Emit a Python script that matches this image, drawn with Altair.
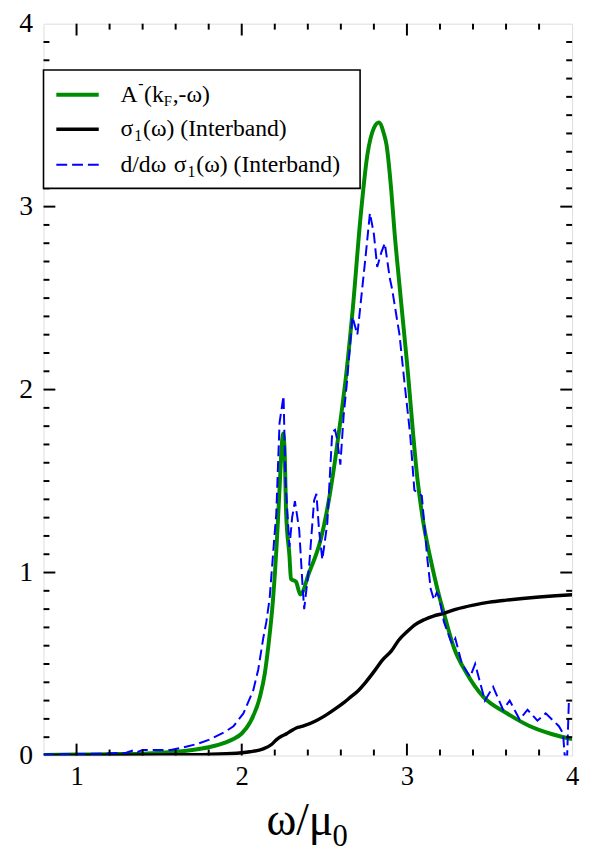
import altair as alt
import pandas as pd

# ---------------- data ----------------
# A^-(k_F,-omega)  (green)
a_x = [0.8, 1.0, 1.2, 1.4, 1.6, 1.7, 1.8, 1.9, 1.95, 2.0, 2.05, 2.11, 2.14, 2.16, 2.19, 2.21, 2.22, 2.23,
       2.24, 2.25, 2.259, 2.269, 2.289, 2.298, 2.328, 2.355, 2.408, 2.478, 2.527, 2.567, 2.607, 2.627,
       2.67, 2.72, 2.76, 2.80, 2.83, 2.86, 2.876, 2.905, 2.925, 2.955, 3.0, 3.065, 3.10, 3.144, 3.194,
       3.224, 3.284, 3.363, 3.463, 3.602, 3.742, 3.88, 4.0]
a_y = [0.003, 0.005, 0.007, 0.01, 0.02, 0.03, 0.045, 0.07, 0.09, 0.12, 0.18, 0.32, 0.45, 0.59, 0.86, 1.13, 1.3, 1.48,
       1.66, 1.76, 1.68, 1.32, 1.09, 0.965, 0.95, 0.88, 1.0, 1.18, 1.394, 1.626, 1.894, 2.04,
       2.42, 2.95, 3.28, 3.43, 3.46, 3.40, 3.34, 3.09, 2.86, 2.57, 2.15, 1.50, 1.27, 1.07, 0.876,
       0.777, 0.59, 0.447, 0.32, 0.232, 0.161, 0.116, 0.09]

# sigma_1(omega) (Interband)  (black)
s_x = [0.8, 1.5, 1.8, 1.97, 2.05, 2.13, 2.18, 2.209, 2.24, 2.27, 2.3, 2.33, 2.37, 2.45, 2.5, 2.57, 2.62,
       2.66, 2.7, 2.75, 2.806, 2.85, 2.906, 2.95, 3.005, 3.05, 3.104, 3.16, 3.224, 3.3, 3.403, 3.5,
       3.602, 3.7, 3.8, 3.9, 4.0]
s_y = [0.0, 0.003, 0.006, 0.012, 0.02, 0.036, 0.06, 0.085, 0.105, 0.118, 0.135, 0.15, 0.16, 0.19, 0.215,
       0.257, 0.29, 0.32, 0.35, 0.40, 0.465, 0.52, 0.572, 0.63, 0.68, 0.715, 0.742, 0.762, 0.777, 0.80,
       0.822, 0.838, 0.849, 0.858, 0.866, 0.873, 0.879]

# d/domega sigma_1(omega) (Interband)  (blue dashed)
d_x = [0.8, 1.0, 1.17, 1.3, 1.35, 1.37, 1.4, 1.5, 1.57, 1.65, 1.73, 1.8, 1.85, 1.9, 1.95, 2.01, 2.07, 2.1,
       2.13, 2.149, 2.169, 2.199, 2.209, 2.229, 2.253, 2.265, 2.289, 2.305, 2.322, 2.348, 2.368, 2.378,
       2.408, 2.438, 2.452, 2.468, 2.488, 2.518, 2.548, 2.565, 2.577, 2.597, 2.617, 2.637, 2.67, 2.70,
       2.75, 2.776, 2.80, 2.82, 2.845, 2.866, 2.896, 2.91, 2.955, 2.985, 3.02, 3.045, 3.09, 3.124,
       3.144, 3.164, 3.18, 3.194, 3.224, 3.264, 3.275, 3.293, 3.333, 3.383, 3.413, 3.472, 3.522, 3.582,
       3.622, 3.682, 3.73, 3.79, 3.84, 3.92, 3.945, 3.955, 3.97, 3.98, 4.0]
d_y = [0.005, 0.008, 0.01, 0.015, 0.03, 0.02, 0.03, 0.03, 0.03, 0.045, 0.063, 0.085, 0.107, 0.13, 0.16, 0.23,
       0.357, 0.47, 0.64, 0.73, 0.86, 1.21, 1.32, 1.82, 1.966, 1.50, 1.14, 1.30, 1.39, 1.233, 0.93, 0.80,
       1.036, 1.394, 1.43, 1.233, 1.07, 1.27, 1.77, 1.78, 1.73, 1.59, 1.86, 2.04, 2.40, 2.30,
       2.73, 2.965, 2.85, 2.67, 2.75, 2.80, 2.61, 2.55, 2.30, 2.04, 1.75, 1.45, 1.42, 1.07,
       0.91, 0.85, 0.89, 0.87, 0.73, 0.63, 0.61, 0.64, 0.50, 0.43, 0.50, 0.30, 0.375, 0.25,
       0.30, 0.197, 0.25, 0.19, 0.23, 0.16, 0.12, 0.0, 0.0, 0.29, 0.30]

x_labels = [1, 2, 3, 4]
y_labels = [0, 1, 2, 3, 4]
x_major = [1, 2, 3]
x_minor = [1.2, 1.4, 1.6, 1.8, 2.2, 2.4, 2.6, 2.8, 3.2, 3.4, 3.6, 3.8]
y_major = [1, 2, 3]
y_minor = [0.1, 0.2, 0.3, 0.4, 0.5, 0.6, 0.7, 0.8, 0.9,
           1.1, 1.2, 1.3, 1.4, 1.5, 1.6, 1.7, 1.8, 1.9,
           2.1, 2.2, 2.3, 2.4, 2.5, 2.6, 2.7, 2.8, 2.9,
           3.1, 3.2, 3.3, 3.4, 3.5, 3.6, 3.7, 3.8, 3.9]

legend_a = ["A", "-", "(k", "F", ",-ω)"]
legend_s = ["σ", "1", "(ω) (Interband)"]
legend_d = ["d/dω", "σ", "1", "(ω) (Interband)"]
title_main = "ω/μ"
title_sub = "0"

# ---------------- chart ----------------
W, H = 536, 742
SERIF = "Liberation Serif"
GREEN = "#008B00"
BLUE = "#0000FF"

xs = alt.Scale(domain=[0.8, 4], nice=False, zero=False)
ys = alt.Scale(domain=[0, 4], nice=False, zero=False)

ax_x = alt.Axis(values=x_labels, format="d", labelFont=SERIF, labelFontSize=27, labelColor="black",
                ticks=False, tickSize=0, domain=False, grid=False, labelPadding=8,
                labelFlush=False, title=None)
ax_y = alt.Axis(values=y_labels, format="d", labelFont=SERIF, labelFontSize=28, labelColor="black",
                ticks=False, tickSize=0, domain=False, grid=False, labelPadding=11,
                labelFlush=False, title=None)

def X(f):
    return alt.X(f"{f}:Q", scale=xs, axis=ax_x)

def Y(f):
    return alt.Y(f"{f}:Q", scale=ys, axis=ax_y)

green = alt.Chart(pd.DataFrame({"x": a_x, "y": a_y})).mark_line(
    color=GREEN, strokeWidth=4, interpolate="monotone", clip=True).encode(x=X("x"), y=Y("y"))
black = alt.Chart(pd.DataFrame({"x": s_x, "y": s_y})).mark_line(
    color="black", strokeWidth=3.5, interpolate="monotone", clip=True).encode(x=X("x"), y=Y("y"))
blue = alt.Chart(pd.DataFrame({"x": d_x, "y": d_y})).mark_line(
    color=BLUE, strokeWidth=2, strokeDash=[11, 5], clip=True).encode(x=X("x"), y=Y("y"))

MAJ, MIN = 12, 6
tick_layers = []
for vals, ln in ((x_major, MAJ), (x_minor, MIN)):
    df = pd.DataFrame({"v": vals})
    tick_layers.append(alt.Chart(df).mark_rule(color="black", strokeWidth=2).encode(
        x=X("v"), y=alt.value(H), y2=alt.value(H - ln)))
    tick_layers.append(alt.Chart(df).mark_rule(color="black", strokeWidth=2).encode(
        x=X("v"), y=alt.value(0), y2=alt.value(ln)))
for vals, ln in ((y_major, MAJ), (y_minor, MIN)):
    df = pd.DataFrame({"v": vals})
    tick_layers.append(alt.Chart(df).mark_rule(color="black", strokeWidth=2).encode(
        y=Y("v"), x=alt.value(0), x2=alt.value(ln)))
    tick_layers.append(alt.Chart(df).mark_rule(color="black", strokeWidth=2).encode(
        y=Y("v"), x=alt.value(W), x2=alt.value(W - ln)))

one = pd.DataFrame({"k": [0]})

def txt(t, x, y, size):
    return alt.Chart(one).mark_text(text=t, font=SERIF, fontSize=size, color="black",
                                    align="left", baseline="middle").encode(
        x=alt.value(x), y=alt.value(y))

# legend
R1, R2, R3 = 72, 107, 143
leg_box = alt.Chart(one).mark_rect(fill="white", stroke="black", strokeWidth=1.6).encode(
    x=alt.value(0), x2=alt.value(321), y=alt.value(47), y2=alt.value(167))
leg_lines = [
    alt.Chart(one).mark_rule(color=GREEN, strokeWidth=4).encode(x=alt.value(13), x2=alt.value(56), y=alt.value(R1)),
    alt.Chart(one).mark_rule(color="black", strokeWidth=3.5).encode(x=alt.value(13), x2=alt.value(56), y=alt.value(R2)),
    alt.Chart(one).mark_rule(color=BLUE, strokeWidth=2, strokeDash=[11, 5]).encode(x=alt.value(13), x2=alt.value(56), y=alt.value(R3)),
]
leg_text = [
    txt(legend_a[0], 78, R1, 24), txt(legend_a[1], 96, R1 - 11, 16), txt(legend_a[2], 102, R1, 24),
    txt(legend_a[3], 122, R1 + 6, 15), txt(legend_a[4], 131, R1, 24),
    txt(legend_s[0], 78, R2, 24), txt(legend_s[1], 92, R2 + 7, 16), txt(legend_s[2], 101, R2, 24),
    txt(legend_d[0], 78, R3, 24), txt(legend_d[1], 132, R3, 24), txt(legend_d[2], 146, R3 + 7, 16),
    txt(legend_d[3], 155, R3, 24),
]

title_layers = [
    alt.Chart(one).mark_text(text=title_main, font=SERIF, fontSize=46, color="black", align="left",
                             baseline="alphabetic").encode(x=alt.value(226), y=alt.value(823)),
    alt.Chart(one).mark_text(text=title_sub, font=SERIF, fontSize=31, color="black", align="left",
                             baseline="alphabetic").encode(x=alt.value(293), y=alt.value(834)),
]

chart = alt.layer(green, black, blue, *tick_layers, leg_box, *leg_lines, *leg_text, *title_layers).properties(
    width=W, height=H,
    autosize=alt.AutoSizeParams(type="none"),
    padding={"left": 36, "top": 10, "right": 9, "bottom": 94},
).configure_view(stroke="black", strokeWidth=2.5).configure(background="white")

chart.save("out.html", embed_options={"renderer": "svg", "actions": False})
